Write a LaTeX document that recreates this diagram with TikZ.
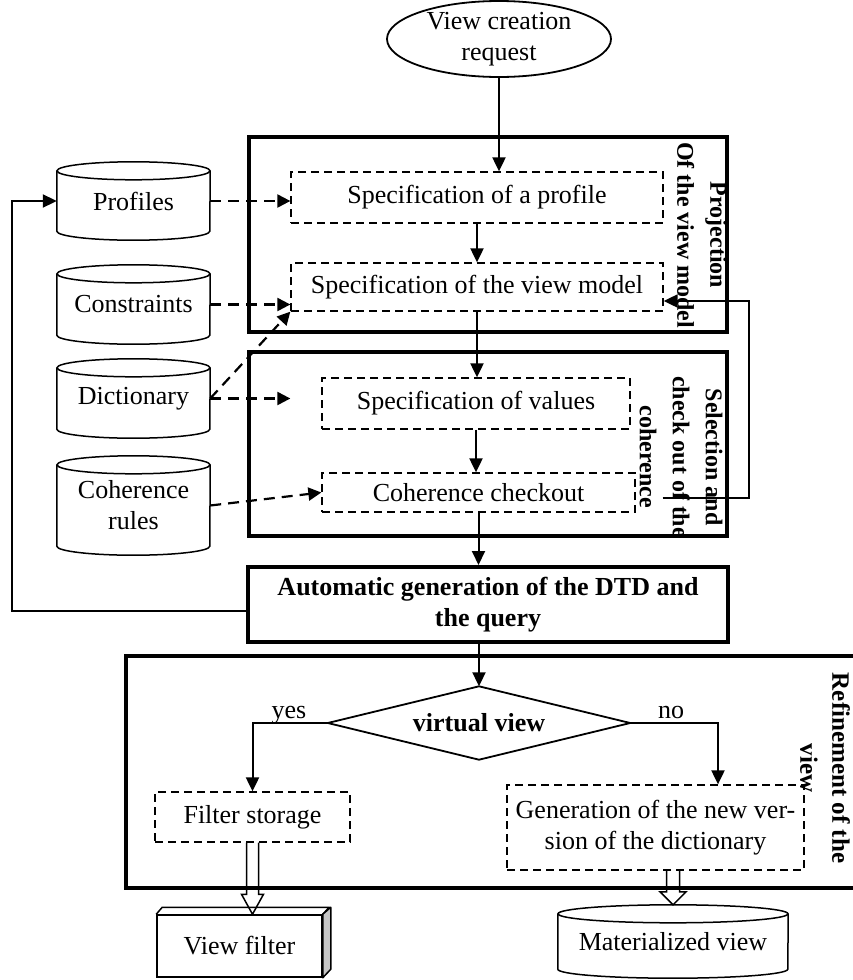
\documentclass[tikz,border=0pt]{standalone}
\usepackage{fontspec}
\setmainfont{Liberation Serif}
\usetikzlibrary{arrows.meta,calc}

\tikzset{
  every node/.style={font=\fontsize{26}{31}\selectfont, inner sep=0pt},
  frame/.style={draw, line width=4pt},
  dbox/.style={draw, line width=1.3pt, dash pattern=on 8pt off 5pt, align=center},
  arr/.style={line width=2pt, -{Triangle[length=14pt,width=13pt]}},
  darr/.style={line width=2.2pt, dash pattern=on 11pt off 7pt, -{Triangle[length=13pt,width=13pt]}},
  side/.style={rotate=-90, align=center, font=\fontsize{24}{33}\selectfont\bfseries},
  cylline/.style={line width=1.5pt},
  hollowline/.style={line width=1.5pt, line join=miter},
  thinshape/.style={line width=1.8pt},
}

% cylinder: name, x, y (down), x-radius, height; text in \dbcyltext
\newcommand\dbcyl[5]{%
  \node[minimum width={2*#4pt}, minimum height=#5pt, align=center] (#1) at (#2,-#3) {\dbcyltext};
  \draw[cylline] ([yshift=-9pt]#1.north) ellipse [x radius=#4pt, y radius=9pt];
  \draw[cylline] ([yshift=-9pt]#1.north west) -- ([yshift=9pt]#1.south west)
     arc[start angle=180, end angle=360, x radius=#4pt, y radius=9pt]
     -- ([yshift=-9pt]#1.north east);
}
% hollow block arrow: from, to, shaft half width, head half width, head length
\newcommand\hollowarr[5]{%
  \draw[hollowline] let \p1=(#1), \p2=(#2) in
    (\x1-#3,\y1) -- (\x1-#3,\y2+#5) -- (\x1-#4,\y2+#5) -- (\x1,\y2)
    -- (\x1+#4,\y2+#5) -- (\x1+#3,\y2+#5) -- (\x1+#3,\y1);
}

\begin{document}
\begin{tikzpicture}[x=1pt,y=1pt]
\useasboundingbox (0,0) rectangle (853,-980);

% request
\node[minimum width=224pt, minimum height=76pt, align=center] (req) at (499,-39) {View creation\\request};
\draw[thinshape] (req.center) ellipse [x radius=112pt, y radius=38pt];

% frames
\node[frame, minimum width=478pt, minimum height=195pt] (proj) at (488,-234.5) {};
\node[frame, minimum width=478pt, minimum height=184pt] (sel) at (488,-444) {};
\node[frame, minimum width=754pt, minimum height=232pt] (refn) at (503,-772) {};

% dashed steps
\node[dbox, minimum width=372pt, minimum height=51pt] (spec) at (477,-197.5) {Specification of a profile};
\node[dbox, minimum width=372pt, minimum height=48pt] (vm) at (477,-287) {Specification of the view model};
\node[dbox, minimum width=308pt, minimum height=51pt] (val) at (476,-403.5) {Specification of values};
\node[dbox, minimum width=313pt, minimum height=39pt] (coh) at (478.5,-492.5) {Coherence checkout};
\node[dbox, minimum width=195pt, minimum height=50pt] (fs) at (252.5,-817) {Filter storage};
\node[dbox, minimum width=297pt, minimum height=85pt] (gen) at (655.5,-827.5) {Generation of the new ver-\\sion of the dictionary};

% automatic generation
\node[frame, minimum width=480pt, minimum height=75pt, align=center,
      font=\fontsize{26}{31}\selectfont\bfseries] (auto) at (488,-604.5)
      {Automatic generation of the DTD and\\the query};

% decision
\node[minimum width=302pt, minimum height=73pt, font=\fontsize{26}{31}\selectfont\bfseries] (vv) at (479,-723) {virtual view};
\draw[thinshape] (vv.north) -- (vv.east) -- (vv.south) -- (vv.west) -- cycle;
\node[anchor=base] (yes) at (289,-718) {yes};
\node[anchor=base] (no) at (671,-718) {no};

% side labels
\node[side] (projl) at (702,-235) {Projection\\Of the view model};
\node[side] (sell) at (681,-457) {Selection and\\check out of the\\coherence};
\node[side, font=\fontsize{25}{32}\selectfont\bfseries] (refl) at (825,-768) {Refinement of the\\view};

% databases
\def\dbcyltext{Profiles}\dbcyl{prof}{133.5}{201}{76.5}{78}
\def\dbcyltext{Constraints}\dbcyl{cons}{133.5}{304.5}{76.5}{79}
\def\dbcyltext{Dictionary}\dbcyl{dict}{133.5}{398.5}{76.5}{79}
\def\dbcyltext{Coherence\\rules}\dbcyl{cohr}{133.5}{505.5}{76.5}{99}
\def\dbcyltext{Materialized view}\dbcyl{mat}{673}{941.5}{115}{73}

% view filter (3D box)
\node[draw, line width=1.5pt, minimum width=165pt, minimum height=62pt] (vf) at (239.5,-946) {View filter};
\draw[line width=1.5pt, line join=round] (vf.north west) -- ++(6,7) -- ++(167,0) -- (vf.north east);
\filldraw[fill=gray!45, line width=1.5pt, line join=round] (vf.north east) -- ++(8,7) -- ++(0,-62) -- (vf.south east) -- cycle;

% main flow
\draw[arr] (req.south) -- (req.south |- spec.north);
\draw[arr] (spec.south) -- (vm.north);
\draw[arr] (vm.south) -- (vm.south |- val.north);
\draw[arr] (val.south) -- (val.south |- coh.north);
\draw[arr] (coh.south) -- (coh.south |- auto.north);
\draw[arr] (auto.south -| vv.north) -- (vv.north);
\draw[arr] (vv.west) -| (fs.north);
\coordinate (noturn) at (718,-723);
\draw[arr] (vv.east) -- (noturn) -- (noturn |- gen.north);

% feedback loops
\draw[arr] ([yshift=-6pt]auto.west) -- ++(-234,0) |- (prof.west);
\draw[arr] ([xshift=27pt,yshift=-5.5pt]coh.east) -- ++(86,0) |- ([yshift=-14pt]vm.east);

% data inputs
\draw[darr] (prof.east) -- (prof.east -| spec.west);
\draw[darr] (cons.east) -- (cons.east -| vm.west);
\draw[darr] (dict.east) -- (vm.south west);
\draw[darr] (dict.east) -- (dict.east -| vm.west);
\draw[darr] (cohr.east) -- (coh.west);

% outputs
\hollowarr{fs.south}{vf.north}{6}{11}{20}
\hollowarr{mat.north |- gen.south}{mat.north}{6.5}{13}{13}
\end{tikzpicture}
\end{document}
